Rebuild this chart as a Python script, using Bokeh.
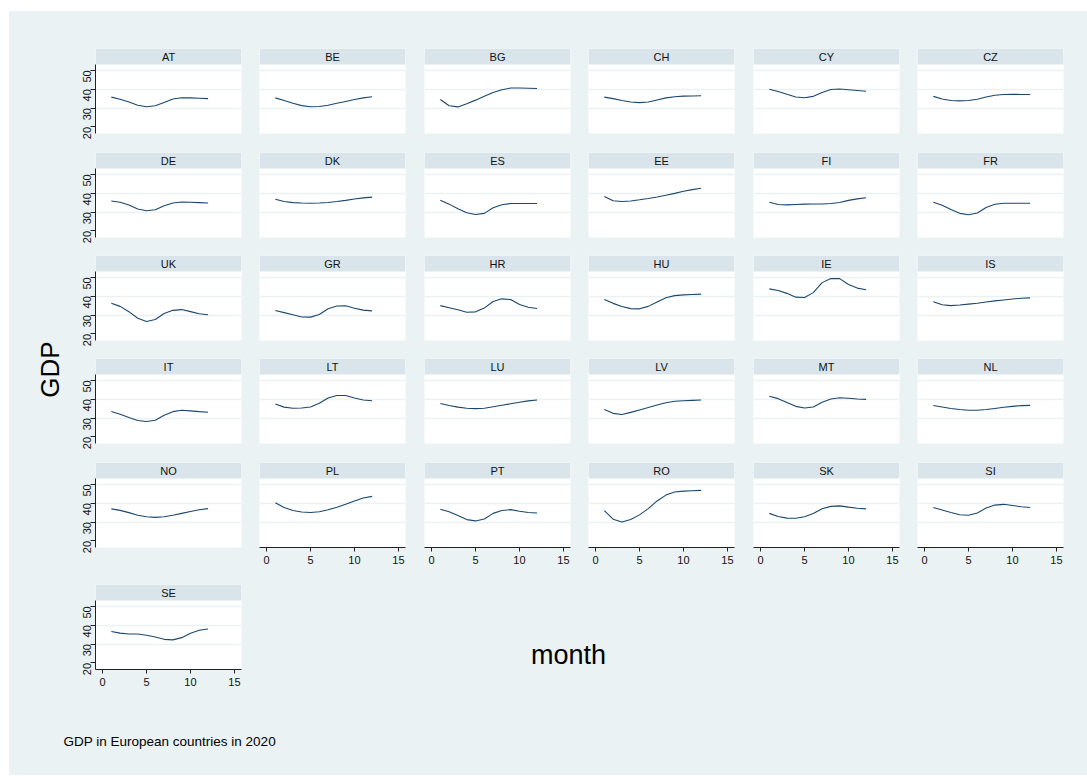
import math

from bokeh.core.properties import value
from bokeh.embed import file_html
from bokeh.layouts import column, row
from bokeh.models import ColumnDataSource, FixedTicker, LinearAxis, Range1d
from bokeh.plotting import figure
from bokeh.resources import INLINE

# ---- data: monthly GDP by country, 2020 ----
months = [1, 2, 3, 4, 5, 6, 7, 8, 9, 10, 11, 12]

gdp_at = [35.8, 34.7, 33.2, 31.5, 30.7, 31.2, 33.0, 34.8, 35.5, 35.4, 35.2, 35.0]
gdp_be = [35.4, 34.0, 32.5, 31.3, 30.7, 30.8, 31.5, 32.5, 33.5, 34.5, 35.4, 36.0]
gdp_bg = [34.5, 31.2, 30.6, 32.3, 34.2, 36.2, 38.2, 39.7, 40.6, 40.6, 40.5, 40.4]
gdp_ch = [35.8, 35.0, 34.0, 33.2, 32.9, 33.2, 34.3, 35.4, 36.0, 36.3, 36.4, 36.5]
gdp_cy = [40.0, 38.8, 37.3, 35.9, 35.5, 36.2, 38.3, 39.8, 40.1, 39.7, 39.3, 38.9]
gdp_cz = [36.2, 34.8, 34.0, 33.8, 34.0, 34.7, 35.9, 36.8, 37.2, 37.3, 37.2, 37.2]
gdp_de = [35.9, 35.2, 33.7, 31.6, 30.7, 31.2, 33.3, 34.8, 35.3, 35.2, 35.0, 34.8]
gdp_dk = [36.8, 35.6, 35.0, 34.8, 34.7, 34.8, 35.1, 35.6, 36.2, 36.9, 37.5, 37.9]
gdp_es = [36.2, 34.2, 31.7, 29.6, 28.7, 29.3, 32.3, 33.9, 34.5, 34.5, 34.5, 34.5]
gdp_ee = [38.2, 36.0, 35.6, 35.9, 36.5, 37.2, 38.0, 38.9, 39.9, 41.0, 41.9, 42.6]
gdp_fi = [35.2, 34.0, 33.8, 34.0, 34.2, 34.3, 34.3, 34.5, 35.1, 36.2, 37.0, 37.6]
gdp_fr = [35.2, 33.6, 31.3, 29.3, 28.6, 29.5, 32.4, 34.1, 34.7, 34.7, 34.7, 34.7]
gdp_uk = [36.3, 34.6, 31.8, 28.3, 26.6, 27.6, 30.8, 32.5, 32.9, 31.8, 30.7, 30.2]
gdp_gr = [32.4, 31.3, 30.2, 29.0, 28.9, 30.3, 33.3, 34.8, 34.9, 33.6, 32.6, 32.2]
gdp_hr = [35.0, 33.9, 32.8, 31.5, 31.7, 33.7, 37.2, 38.6, 38.2, 35.6, 34.1, 33.5]
gdp_hu = [38.3, 36.2, 34.5, 33.4, 33.3, 34.6, 36.9, 39.2, 40.3, 40.7, 40.9, 41.1]
gdp_ie = [43.9, 43.0, 41.5, 39.5, 39.3, 41.9, 47.2, 49.4, 49.3, 46.2, 44.3, 43.4]
gdp_is = [37.1, 35.5, 35.0, 35.3, 35.8, 36.3, 36.9, 37.5, 38.0, 38.5, 38.9, 39.1]
gdp_it = [33.5, 32.0, 30.3, 28.7, 28.2, 28.8, 31.5, 33.4, 34.1, 33.8, 33.4, 33.1]
gdp_lt = [37.4, 35.8, 35.2, 35.3, 35.9, 37.8, 40.6, 42.0, 42.0, 40.6, 39.6, 39.2]
gdp_lu = [37.7, 36.7, 35.8, 35.2, 35.0, 35.2, 36.0, 36.8, 37.6, 38.4, 39.1, 39.6]
gdp_lv = [34.6, 32.5, 31.9, 33.0, 34.3, 35.6, 36.9, 38.1, 38.9, 39.2, 39.4, 39.6]
gdp_mt = [41.6, 40.3, 38.3, 36.2, 35.3, 35.9, 38.4, 40.1, 40.8, 40.5, 40.1, 39.9]
gdp_nl = [36.7, 35.9, 35.1, 34.5, 34.1, 34.1, 34.5, 35.1, 35.7, 36.2, 36.6, 36.7]
gdp_no = [37.0, 36.2, 35.0, 33.6, 32.8, 32.5, 32.8, 33.6, 34.6, 35.6, 36.5, 37.1]
gdp_pl = [40.2, 37.7, 36.1, 35.3, 35.1, 35.5, 36.5, 37.8, 39.4, 41.2, 42.8, 43.6]
gdp_pt = [36.8, 35.5, 33.5, 31.3, 30.6, 31.6, 34.6, 36.1, 36.6, 35.7, 35.1, 34.8]
gdp_ro = [36.1, 31.5, 30.0, 31.4, 33.8, 37.1, 41.2, 44.3, 45.9, 46.4, 46.6, 46.8]
gdp_sk = [34.6, 32.9, 32.1, 32.0, 32.8, 34.5, 37.1, 38.3, 38.6, 37.9, 37.3, 37.0]
gdp_si = [37.7, 36.4, 35.1, 33.9, 33.6, 34.8, 37.4, 39.0, 39.4, 38.8, 38.1, 37.7]
gdp_se = [36.7, 35.8, 35.3, 35.3, 34.7, 33.7, 32.5, 32.2, 33.4, 35.7, 37.3, 38.0]

countries = ["AT", "BE", "BG", "CH", "CY", "CZ",
             "DE", "DK", "ES", "EE", "FI", "FR",
             "UK", "GR", "HR", "HU", "IE", "IS",
             "IT", "LT", "LU", "LV", "MT", "NL",
             "NO", "PL", "PT", "RO", "SK", "SI",
             "SE"]
series = [gdp_at, gdp_be, gdp_bg, gdp_ch, gdp_cy, gdp_cz,
          gdp_de, gdp_dk, gdp_es, gdp_ee, gdp_fi, gdp_fr,
          gdp_uk, gdp_gr, gdp_hr, gdp_hu, gdp_ie, gdp_is,
          gdp_it, gdp_lt, gdp_lu, gdp_lv, gdp_mt, gdp_nl,
          gdp_no, gdp_pl, gdp_pt, gdp_ro, gdp_sk, gdp_si,
          gdp_se]

x_ticks = [0, 5, 10, 15]
y_ticks = [20, 30, 40, 50]

# ---- styling ----
PAGE_BG = "#eaf2f3"
STRIP_BG = "#d9e5ea"
GRID_COLOR = "#eaf2f3"
LINE_COLOR = "#1a476f"
AXIS_COLOR = "#222222"
FONT = "Liberation Sans"
BG_STYLE = {"background-color": PAGE_BG}

NCOLS = 6
FRAME_W = 146
PLOT_PX = 69
STRIP_PX = 16

X_LO, X_HI = -0.8, 15.8
Y_LO, Y_HI = 16.5, 53.1
Y_TOP = Y_HI + (Y_HI - Y_LO) * STRIP_PX / PLOT_PX

# borders around each panel frame (px): left/right per column, top/bottom per row
col_left = [25, 9, 9, 9, 9, 9]
col_right = [9, 10, 9, 10, 9, 24]
row_top = [37, 9, 9, 9, 9, 9]
row_bottom = [10, 9, 9, 10, 28, 36]

GDP_STRIP_W = 61


def style_axis(axis):
    axis.axis_line_color = AXIS_COLOR
    axis.major_tick_line_color = AXIS_COLOR
    axis.minor_tick_line_color = None
    axis.major_label_text_color = "#111111"
    axis.major_label_text_font = FONT


def panel(idx):
    r, c = divmod(idx, NCOLS)
    name = countries[idx]
    n = len(countries)
    has_left = c == 0
    has_bottom = idx + NCOLS >= n

    w = col_left[c] + FRAME_W + col_right[c]
    h = row_top[r] + STRIP_PX + PLOT_PX + row_bottom[r]
    p = figure(width=w, height=h, title=None, toolbar_location=None, tools="",
               output_backend="svg",
               x_range=Range1d(X_LO, X_HI), y_range=Range1d(Y_LO, Y_TOP),
               x_axis_location=None, y_axis_location=None,
               min_border_left=col_left[c], min_border_right=col_right[c],
               min_border_top=row_top[r], min_border_bottom=row_bottom[r],
               background_fill_color="white", border_fill_color=PAGE_BG,
               outline_line_color=None, styles=BG_STYLE)
    p.xgrid.visible = False
    p.ygrid.ticker = FixedTicker(ticks=[t for t in y_ticks if t > y_ticks[0]])
    p.ygrid.grid_line_color = GRID_COLOR
    p.ygrid.grid_line_width = 1.5

    # header strip with the country code
    p.quad(left=[X_LO], right=[X_HI], bottom=[Y_HI], top=[Y_TOP],
           fill_color=STRIP_BG, line_color=None)
    p.text(x=[(X_LO + X_HI) / 2], y=[(Y_HI + Y_TOP) / 2], text=[name],
           text_align="center", text_baseline="middle",
           text_font=value(FONT), text_font_size="11px", text_color="#111111")

    src = ColumnDataSource(data=dict(month=months, gdp=series[idx]))
    p.line("month", "gdp", source=src, line_color=LINE_COLOR, line_width=1.1)

    if has_left:
        ax = LinearAxis(ticker=FixedTicker(ticks=y_ticks), bounds=(Y_LO, Y_HI))
        style_axis(ax)
        ax.major_tick_out = 5
        ax.major_tick_in = 0
        ax.major_label_standoff = 3
        ax.major_label_orientation = math.pi / 2
        ax.major_label_text_font_size = "11px"
        p.add_layout(ax, "left")
    if has_bottom:
        ax = LinearAxis(ticker=FixedTicker(ticks=x_ticks))
        style_axis(ax)
        ax.major_tick_out = 4
        ax.major_tick_in = 0
        ax.major_label_standoff = 4
        ax.major_label_text_font_size = "11px"
        p.add_layout(ax, "below")
    return p


def blank(width, height):
    b = figure(width=width, height=height, title=None, toolbar_location=None, tools="",
               output_backend="svg",
               x_range=Range1d(0, width), y_range=Range1d(0, height),
               x_axis_location=None, y_axis_location=None,
               min_border=0, min_border_left=0, min_border_right=0,
               min_border_top=0, min_border_bottom=0,
               background_fill_color=PAGE_BG, border_fill_color=PAGE_BG,
               outline_line_color=None, styles=BG_STYLE)
    b.grid.visible = False
    return b


panels = [panel(i) for i in range(len(countries))]
nrows = math.ceil(len(countries) / NCOLS)

rows = []
for r in range(nrows):
    figs = panels[r * NCOLS:(r + 1) * NCOLS]
    if len(figs) < NCOLS:
        used = sum(col_left[c] + FRAME_W + col_right[c] for c in range(len(figs)))
        total = sum(col_left[c] + FRAME_W + col_right[c] for c in range(NCOLS))
        h = row_top[r] + STRIP_PX + PLOT_PX + row_bottom[r]
        filler = blank(total - used, h)
        # x-axis title, placed in the empty area of the last row
        filler.text(x=[318], y=[22], text=["month"], text_align="center",
                    text_baseline="middle", text_font=value(FONT),
                    text_font_size="27px", text_color="#000000")
        figs = figs + [filler]
    rows.append(row(*figs, spacing=0, styles=BG_STYLE))

grid = column(*rows, spacing=0, styles=BG_STYLE)
grid_h = sum(row_top[r] + STRIP_PX + PLOT_PX + row_bottom[r] for r in range(nrows))

# y-axis title strip
ylab = blank(GDP_STRIP_W, grid_h)
ylab.text(x=[40.5], y=[grid_h - 358], text=["GDP"], angle=math.pi / 2,
          text_align="center", text_baseline="middle", text_font=value(FONT),
          text_font_size="26px", text_color="#000000")

total_w = GDP_STRIP_W + sum(col_left[c] + FRAME_W + col_right[c] for c in range(NCOLS))

# caption underneath
FOOT_H = 70
foot = blank(total_w, FOOT_H)
foot.text(x=[54], y=[FOOT_H - 36], text=["GDP in European countries in 2020"],
          text_align="left", text_baseline="middle", text_font=value(FONT),
          text_font_size="13.5px", text_color="#000000")

layout = column(row(ylab, grid, spacing=0, styles=BG_STYLE), foot,
                spacing=0, margin=(11, 0, 0, 9), styles=BG_STYLE)

with open("out.html", "w") as f:
    f.write(file_html(layout, INLINE, "GDP in European countries in 2020"))
